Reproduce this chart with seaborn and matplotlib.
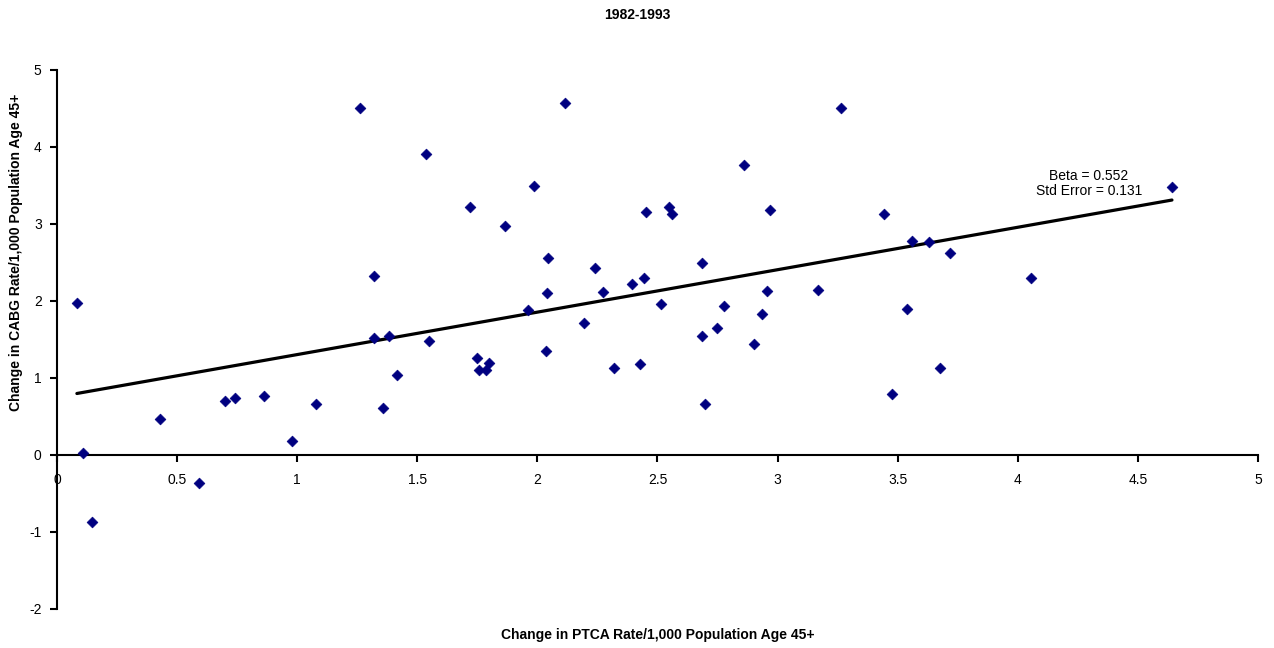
import numpy as np
import pandas as pd
import matplotlib
matplotlib.use('Agg')
import matplotlib.pyplot as plt
import seaborn as sns

# Data
ptca_change = [0.083, 0.108, 0.146, 0.43, 0.59, 0.70, 0.74, 0.86, 0.977, 1.077,
               1.261, 1.32, 1.318, 1.383, 1.357, 1.416, 1.535, 1.55, 1.718, 1.75,
               1.757, 1.785, 1.80, 1.865, 1.987, 2.116, 2.043, 2.24, 2.039, 1.962,
               2.273, 2.195, 2.036, 2.32, 2.393, 2.859, 2.453, 2.548, 2.559, 2.967,
               3.443, 3.56, 3.632, 3.716, 2.684, 2.445, 2.515, 2.956, 3.17, 2.777,
               2.934, 3.539, 2.75, 2.684, 2.90, 2.427, 3.675, 3.476, 2.70, 3.265,
               4.642, 4.054]
cabg_change = [1.97, 0.03, -0.87, 0.47, -0.36, 0.70, 0.74, 0.77, 0.18, 0.66,
               4.51, 2.32, 1.52, 1.55, 0.61, 1.035, 3.91, 1.48, 3.22, 1.26,
               1.10, 1.11, 1.19, 2.98, 3.49, 4.57, 2.555, 2.43, 2.11, 1.88,
               2.12, 1.72, 1.35, 1.13, 2.22, 3.76, 3.16, 3.22, 3.13, 3.185,
               3.13, 2.775, 2.76, 2.62, 2.49, 2.30, 1.96, 2.13, 2.14, 1.94,
               1.83, 1.89, 1.65, 1.55, 1.445, 1.18, 1.13, 0.79, 0.66, 4.51,
               3.485, 2.30]
x_ticks = [0, 0.5, 1, 1.5, 2, 2.5, 3, 3.5, 4, 4.5, 5]
y_ticks = [-2, -1, 0, 1, 2, 3, 4, 5]
fit_note = "Beta = 0.552\nStd Error = 0.131"

df = pd.DataFrame({'ptca': ptca_change, 'cabg': cabg_change})

sns.set_style("white")
plt.rcParams['font.family'] = ['Liberation Sans', 'DejaVu Sans']
plt.rcParams['axes.unicode_minus'] = False
plt.rcParams['text.color'] = 'black'
plt.rcParams['axes.labelcolor'] = 'black'
plt.rcParams['xtick.color'] = 'black'
plt.rcParams['ytick.color'] = 'black'

fig = plt.figure(figsize=(12.74, 6.48), dpi=100)
ax = fig.add_axes([0.0447, 0.0602, 0.9427, 0.8318])

sns.scatterplot(data=df, x='ptca', y='cabg', marker='D', s=30,
                color='#000080', edgecolor='#000080', linewidth=0.5, ax=ax, zorder=3)
sns.regplot(data=df, x='ptca', y='cabg', scatter=False, ci=None, truncate=True,
            line_kws={'color': 'black', 'linewidth': 2.3}, ax=ax)

ax.set_xlim(0, 5)
ax.set_ylim(-2, 5)
ax.set_xticks(x_ticks)
ax.set_xticklabels([f'{t:g}' for t in x_ticks])
ax.set_yticks(y_ticks)

# Excel style axes: x axis crosses at y=0
ax.spines['bottom'].set_position(('data', 0))
ax.spines['top'].set_visible(False)
ax.spines['right'].set_visible(False)
for sp in ['bottom', 'left']:
    ax.spines[sp].set_color('black')
    ax.spines[sp].set_linewidth(1.5)
ax.tick_params(axis='both', direction='out', length=5, width=1.5, color='black',
               labelsize=10, bottom=True, left=True)
ax.tick_params(axis='x', pad=8)
ax.tick_params(axis='y', pad=6)

ax.set_xlabel('Change in PTCA Rate/1,000 Population Age 45+', fontsize=10, fontweight='bold')
ax.set_ylabel('Change in CABG Rate/1,000 Population Age 45+', fontsize=10, fontweight='bold')
ax.xaxis.set_label_coords(0.5, -0.035)
ax.yaxis.set_label_coords(-0.028, 0.662)

ax.text(4.296, 3.52, fit_note, ha='center', va='center', fontsize=10, linespacing=1.1)

fig.suptitle('1982-1993', y=0.977, va='center', fontsize=10, fontweight='bold')

plt.savefig('out.png', dpi=100)
